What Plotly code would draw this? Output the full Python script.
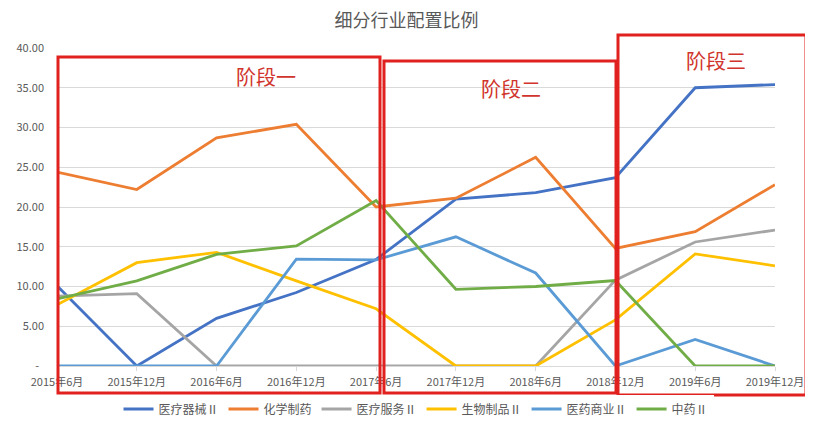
import plotly.graph_objects as go

# Datos
meses = ["2015年6月", "2015年12月", "2016年6月", "2016年12月", "2017年6月",
         "2017年12月", "2018年6月", "2018年12月", "2019年6月", "2019年12月"]

qixie = [10.1, 0, 6.0, 9.25, 13.4, 21.0, 21.8, 23.7, 35.0, 35.4]      # 医疗器械Ⅱ
huaxue = [24.4, 22.2, 28.7, 30.4, 20.0, 21.1, 26.25, 14.8, 16.9, 22.8]  # 化学制药
fuwu = [8.8, 9.1, 0, 0, 0, 0, 0, 10.8, 15.6, 17.1]                    # 医疗服务Ⅱ
shengwu = [7.7, 13.0, 14.3, 10.7, 7.2, 0, 0, 5.8, 14.1, 12.6]         # 生物制品Ⅱ
shangye = [0, 0, 0, 13.45, 13.35, 16.25, 11.7, 0, 3.35, 0]            # 医药商业Ⅱ
zhongyao = [8.45, 10.7, 14.05, 15.1, 20.8, 9.65, 10.0, 10.75, 0, 0]   # 中药Ⅱ

series = [
    ("医疗器械Ⅱ", qixie, "#4472C4"),
    ("化学制药", huaxue, "#ED7D31"),
    ("医疗服务Ⅱ", fuwu, "#A5A5A5"),
    ("生物制品Ⅱ", shengwu, "#FFC000"),
    ("医药商业Ⅱ", shangye, "#5B9BD5"),
    ("中药Ⅱ", zhongyao, "#70AD47"),
]

ytick_vals = [0, 5, 10, 15, 20, 25, 30, 35, 40]
ytick_text = ["-\u00a0\u00a0", "5.00", "10.00", "15.00", "20.00", "25.00",
              "30.00", "35.00", "40.00"]

etapas = ["阶段一", "阶段二", "阶段三"]

FONT = "Noto Sans CJK SC, Microsoft YaHei, sans-serif"
GRIS = "#595959"
ROJO = "#E0211E"

# la página deja 8 px de margen alrededor del gráfico
OFF = 8
W, H = 813 - 2 * OFF, 428 - 2 * OFF
L, R, T, B = 57, 775, 48, 366  # área de trazado en píxeles de la página


def px_x(p):
    return (p - L) / (R - L)


def px_y(p):
    return (B - p) / (B - T)


fig = go.Figure()
for nombre, vals, color in series:
    fig.add_trace(go.Scatter(
        x=meses, y=vals, name=nombre, mode="lines",
        line=dict(color=color, width=2.8),
    ))

# recuadros rojos de cada etapa
cajas = [(58, 57, 380, 393), (384, 61, 616, 393), (618, 35, 806, 395)]
posiciones = [(266, 76), (511, 88), (716, 60)]
for (x0, y0, x1, y1), etiqueta, (tx, ty) in zip(cajas, etapas, posiciones):
    fig.add_shape(type="rect", xref="paper", yref="paper",
                  x0=px_x(x0), x1=px_x(x1), y0=px_y(y1), y1=px_y(y0),
                  line=dict(color=ROJO, width=3), layer="above")
    fig.add_annotation(text=etiqueta, xref="paper", yref="paper",
                       x=px_x(tx), y=px_y(ty), xanchor="center", yanchor="middle",
                       showarrow=False,
                       font=dict(size=20, color="#D0342C", family=FONT))

fig.update_layout(
    width=W, height=H,
    title=dict(text="细分行业配置比例", x=0.5, xanchor="center",
               y=1 - (21 - OFF) / H, yanchor="middle",
               font=dict(size=18, color=GRIS, family=FONT)),
    paper_bgcolor="white", plot_bgcolor="white",
    font=dict(family=FONT, color=GRIS, size=11),
    margin=dict(l=L - OFF, r=(813 - OFF) - R, t=T - OFF, b=(428 - OFF) - B,
                autoexpand=False),
    legend=dict(orientation="h", x=0.5, xanchor="center",
                yref="container", y=1 - (409 - OFF) / H, yanchor="middle",
                font=dict(size=12, color=GRIS), itemwidth=30),
    showlegend=True,
)
fig.update_xaxes(type="category", range=[0, 9], showgrid=False, automargin=False,
                 showline=True, linecolor="#D9D9D9", linewidth=1,
                 ticks="outside", ticklen=4, tickcolor="#D9D9D9",
                 tickfont=dict(size=11, color=GRIS), tickangle=0, ticklabelstandoff=2)
fig.update_yaxes(range=[0, 40], tickvals=ytick_vals, ticktext=ytick_text,
                 showgrid=True, gridcolor="#D9D9D9", zeroline=False, automargin=False,
                 tickfont=dict(size=11, color=GRIS), ticklabelstandoff=12)

fig.write_html("out.html")
